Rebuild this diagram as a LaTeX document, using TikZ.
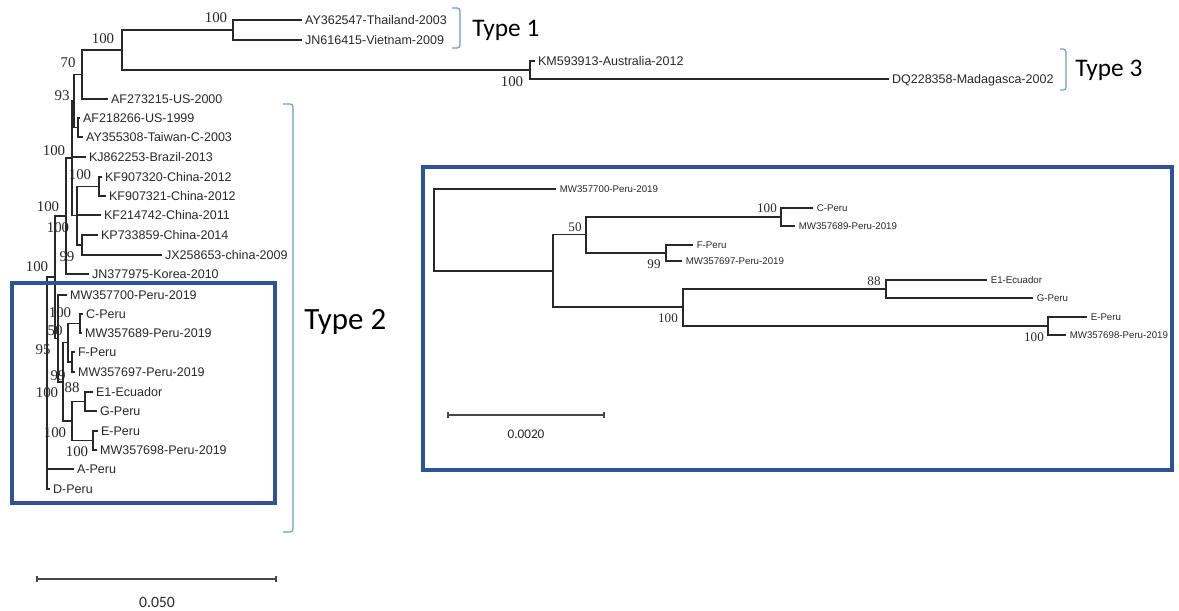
\documentclass[tikz,border=0pt]{standalone}
\usepackage{fontspec}
\setmainfont{Liberation Serif}
\newfontfamily\arialfont{Liberation Sans}
\newfontfamily\calfont{Carlito}
\usepackage{tikz}
\usetikzlibrary{arrows.meta}
\definecolor{treegray}{RGB}{40,40,40}
\definecolor{boxblue}{RGB}{47,84,150}
\definecolor{brackblue}{RGB}{110,150,210}

\begin{document}
\begin{tikzpicture}[x=0.025cm, y=-0.025cm,
  branch/.style={draw=treegray, line width=0.8pt},
  leaf/.style={anchor=west, inner xsep=2pt, inner ysep=0pt, text height=6.4pt, text depth=0pt, font=\arialfont\fontsize{8.9}{10}\selectfont, text=treegray},
  rleaf/.style={leaf, inner xsep=2.5pt, text height=4.9pt, font=\arialfont\fontsize{6.9}{8}\selectfont},
  boot/.style={inner sep=0pt, font=\fontsize{10.6}{12}\selectfont, text=treegray},
  rboot/.style={boot, font=\fontsize{9.3}{11}\selectfont},
  typelab/.style={anchor=west, inner sep=0pt, font=\calfont\fontsize{18}{20}\selectfont},
  bracket/.style={draw=brackblue, line width=0.8pt, rounded corners=2pt},
  insetbox/.style={draw=boxblue, line width=2.2pt},
  scalebar/.style={draw=treegray!85, line width=1.3pt, {Bar[width=4pt]}-{Bar[width=4pt]}}
]
  \useasboundingbox (0,0) rectangle (1179,611);

  % full tree, inner nodes
  \coordinate (t1) at (233,30);
  \coordinate (n1) at (122,50);
  \coordinate (t3) at (530,70);
  \coordinate (n70) at (82,74.5);
  \coordinate (nus) at (78,127.5);
  \coordinate (n93) at (74,101);
  \coordinate (nkf) at (99,186.5);
  \coordinate (nkp) at (82,245);
  \coordinate (nch) at (77,215.75);
  \coordinate (nb) at (72,158);
  \coordinate (nk) at (66,216);
  \coordinate (nc) at (80,323.5);
  \coordinate (nf) at (72,362);
  \coordinate (n50) at (68,342.75);
  \coordinate (ne1) at (85,401.5);
  \coordinate (ne) at (93,440.5);
  \coordinate (n100) at (72,421);
  \coordinate (npe1) at (63,382);
  \coordinate (npe2) at (58,338.5);
  \coordinate (nr) at (55,277);
  \coordinate (root) at (47,383);

  % full tree, leaves
  \node[leaf] (ay3625) at (302,20) {AY362547-Thailand-2003};
  \node[leaf] (jn6164) at (302,40) {JN616415-Vietnam-2009};
  \node[leaf] (km5939) at (535,61) {KM593913-Australia-2012};
  \node[leaf] (dq2283) at (889,79) {DQ228358-Madagasca-2002};
  \node[leaf] (af2732) at (108,99) {AF273215-US-2000};
  \node[leaf] (af2182) at (80,118) {AF218266-US-1999};
  \node[leaf] (ay3553) at (83,137) {AY355308-Taiwan-C-2003};
  \node[leaf] (kj8622) at (86,157) {KJ862253-Brazil-2013};
  \node[leaf] (kf9320) at (102,177) {KF907320-China-2012};
  \node[leaf] (kf9321) at (106,196) {KF907321-China-2012};
  \node[leaf] (kf2147) at (101,215) {KF214742-China-2011};
  \node[leaf] (kp7338) at (98,235) {KP733859-China-2014};
  \node[leaf] (jx2586) at (162,255) {JX258653-china-2009};
  \node[leaf] (jn3779) at (89,274) {JN377975-Korea-2010};
  \node[leaf] (mw700) at (67,295) {MW357700-Peru-2019};
  \node[leaf] (cperu) at (83,314) {C-Peru};
  \node[leaf] (mw689) at (82,333) {MW357689-Peru-2019};
  \node[leaf] (fperu) at (75,352) {F-Peru};
  \node[leaf] (mw697) at (75,372) {MW357697-Peru-2019};
  \node[leaf] (e1ecu) at (93,392) {E1-Ecuador};
  \node[leaf] (gperu) at (97,411) {G-Peru};
  \node[leaf] (eperu) at (98,431) {E-Peru};
  \node[leaf] (mw698) at (97,450) {MW357698-Peru-2019};
  \node[leaf] (aperu) at (74,469) {A-Peru};
  \node[leaf] (dperu) at (50,489) {D-Peru};

  \draw[branch] (t1) |- (ay3625.west) (t1) |- (jn6164.west);
  \draw[branch] (t3) |- (km5939.west) (t3) |- (dq2283.west);
  \draw[branch] (n1) |- (t1) (n1) |- (t3);
  \draw[branch] (n70) |- (n1) (n70) |- (af2732.west);
  \draw[branch] (nus) |- (af2182.west) (nus) |- (ay3553.west);
  \draw[branch] (n93) |- (n70) (n93) |- (nus);
  \draw[branch] (nkf) |- (kf9320.west) (nkf) |- (kf9321.west);
  \draw[branch] (nkp) |- (kp7338.west) (nkp) |- (jx2586.west);
  \draw[branch] (nch) |- (nkf) (nch) |- (kf2147.west) (nch) |- (nkp);
  \draw[branch] (nb) |- (n93) (nb) |- (kj8622.west) (nb) |- (nch);
  \draw[branch] (nk) |- (nb) (nk) |- (jn3779.west);
  \draw[branch] (nc) |- (cperu.west) (nc) |- (mw689.west);
  \draw[branch] (nf) |- (fperu.west) (nf) |- (mw697.west);
  \draw[branch] (n50) |- (nc) (n50) |- (nf);
  \draw[branch] (ne1) |- (e1ecu.west) (ne1) |- (gperu.west);
  \draw[branch] (ne) |- (eperu.west) (ne) |- (mw698.west);
  \draw[branch] (n100) |- (ne1) (n100) |- (ne);
  \draw[branch] (npe1) |- (n50) (npe1) |- (n100);
  \draw[branch] (npe2) |- (mw700.west) (npe2) |- (npe1);
  \draw[branch] (nr) |- (nk) (nr) |- (npe2);
  \draw[branch] (root) |- (nr) (root) |- (aperu.west) (root) |- (dperu.west);

  % bootstrap values
  \node[boot] (bs1) at (216,18) {100};
  \node[boot] (bs2) at (103,39) {100};
  \node[boot] (bs3) at (68,63) {70};
  \node[boot] (bs4) at (62,96) {93};
  \node[boot] (bs5) at (54,151) {100};
  \node[boot] (bs6) at (80,175) {100};
  \node[boot] (bs7) at (48,207) {100};
  \node[boot] (bs8) at (58,228) {100};
  \node[boot] (bs9) at (67,257) {99};
  \node[boot] (bs10) at (37,267) {100};
  \node[boot] (bs11) at (60,313) {100};
  \node[boot] (bs12) at (55,331) {50};
  \node[boot] (bs13) at (43,350) {95};
  \node[boot] (bs14) at (58,376) {99};
  \node[boot] (bs15) at (47,393) {100};
  \node[boot] (bs16) at (72,388) {88};
  \node[boot] (bs17) at (55,433) {100};
  \node[boot] (bs18) at (77,452) {100};
  \node[boot] (bs19) at (512,82) {100};

  % type brackets
  \draw[bracket] (452,8) -- (460,8) -- (460,48) -- (452,48);
  \node[typelab] (type1) at (472,30) {Type 1};
  \draw[bracket] (1060,49) -- (1066,49) -- (1066,90) -- (1060,90);
  \node[typelab] (type3) at (1075,70) {Type 3};
  \draw[bracket] (283,104) -- (293,104) -- (293,532) -- (283,532);
  \node[typelab, font=\calfont\fontsize{22}{24}\selectfont] (type2) at (304,322) {Type 2};

  % Peru inset
  \coordinate (rroot) at (434,229.5);
  \coordinate (ra) at (553,271);
  \coordinate (r50) at (586,234.75);
  \coordinate (rc) at (781,217);
  \coordinate (rf) at (666,253);
  \coordinate (r100) at (683,307);
  \coordinate (r88) at (886,289);
  \coordinate (re) at (1048,326);

  \node[rleaf] (rmw700) at (556,189) {MW357700-Peru-2019};
  \node[rleaf] (rcperu) at (813,208) {C-Peru};
  \node[rleaf] (rmw689) at (795,226) {MW357689-Peru-2019};
  \node[rleaf] (rfperu) at (693,245) {F-Peru};
  \node[rleaf] (rmw697) at (682,261) {MW357697-Peru-2019};
  \node[rleaf] (re1ecu) at (987,280) {E1-Ecuador};
  \node[rleaf] (rgperu) at (1033,298) {G-Peru};
  \node[rleaf] (reperu) at (1087,317) {E-Peru};
  \node[rleaf] (rmw698) at (1066,335) {MW357698-Peru-2019};

  \draw[branch] (rc) |- (rcperu.west) (rc) |- (rmw689.west);
  \draw[branch] (rf) |- (rfperu.west) (rf) |- (rmw697.west);
  \draw[branch] (r50) |- (rc) (r50) |- (rf);
  \draw[branch] (r88) |- (re1ecu.west) (r88) |- (rgperu.west);
  \draw[branch] (re) |- (reperu.west) (re) |- (rmw698.west);
  \draw[branch] (r100) |- (r88) (r100) |- (re);
  \draw[branch] (ra) |- (r50) (ra) |- (r100);
  \draw[branch] (rroot) |- (rmw700.west) (rroot) |- (ra);

  \node[rboot] (rbs1) at (575,227) {50};
  \node[rboot] (rbs2) at (767,208) {100};
  \node[rboot] (rbs3) at (654,264) {99};
  \node[rboot] (rbs4) at (668,318) {100};
  \node[rboot] (rbs5) at (874,281) {88};
  \node[rboot] (rbs6) at (1034,337) {100};

  % boxes
  \draw[insetbox] (12,283) rectangle (275,503);
  \draw[insetbox] (423,167) rectangle (1172,470);

  % scale bars
  \coordinate (sbla) at (36,579);
  \coordinate (sblb) at (277,579);
  \draw[scalebar] (sbla) -- (sblb);
  \node[font=\calfont\fontsize{11.2}{13}\selectfont, text=treegray] (sbltext) at (157,602) {0.050};
  \coordinate (sbra) at (447,415);
  \coordinate (sbrb) at (605,415);
  \draw[scalebar] (sbra) -- (sbrb);
  \node[font=\calfont\fontsize{9.4}{11}\selectfont, text=treegray] (sbrtext) at (526,434) {0.0020};
\end{tikzpicture}
\end{document}
